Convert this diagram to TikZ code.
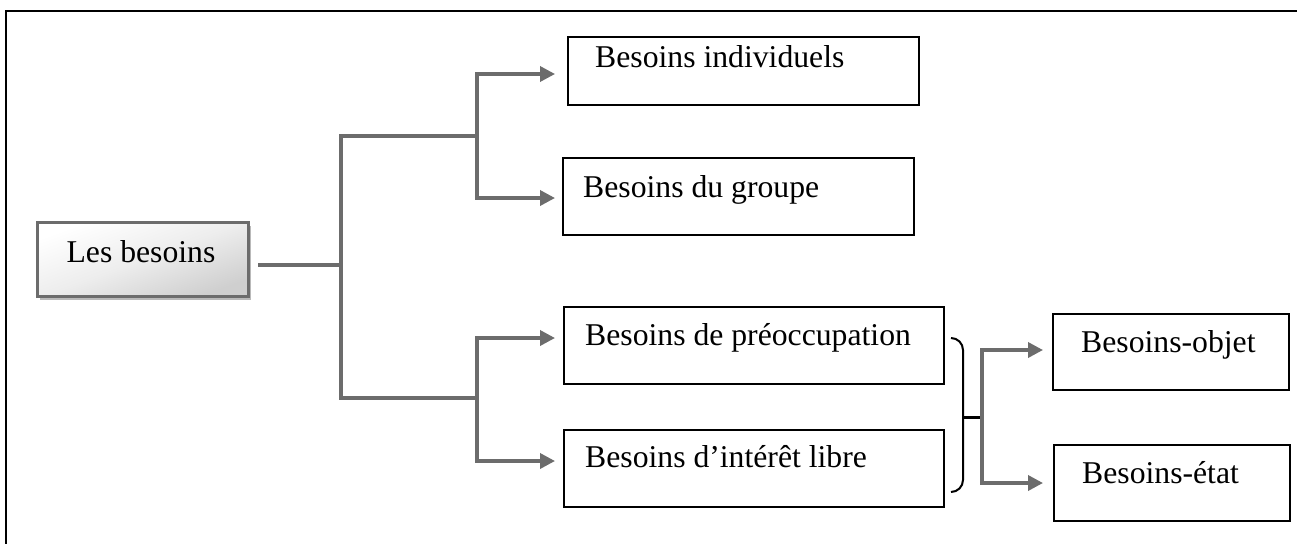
\documentclass[tikz,border=0pt]{standalone}
\usepackage{fontspec}
\setmainfont{Liberation Serif}
\usetikzlibrary{arrows.meta,shadows}
\definecolor{linkgray}{RGB}{108,108,108}
\begin{document}
\begin{tikzpicture}[x=1pt,y=-1pt,
  box/.style={draw=black, line width=1.8pt, anchor=north west, inner sep=0pt},
  rootbox/.style={draw=linkgray, line width=2.6pt, anchor=north west, inner sep=0pt,
    shading=axis, top color=white, bottom color=gray!38, middle color=gray!14, shading angle=20,
    general shadow={fill=gray!55, shadow xshift=3pt, shadow yshift=-4pt}},
  lbl/.style={inner sep=0pt, font=\fontsize{31.7}{38}\selectfont},
  conn/.style={draw=linkgray, line width=3.5pt, line join=miter},
  arr/.style={conn, -{Triangle[length=15pt,width=15pt]}},
  brace/.style={draw=black, line width=2pt, rounded corners=12pt}]
\useasboundingbox (0,0) rectangle (1297,543);
\fill[white] (0,0) rectangle (1297,543);

% outer frame (top and left edges)
\draw[black, line width=2.4pt] (6,545) -- (6,11) -- (1299,11);

% root box
\node[rootbox, minimum width=211pt, minimum height=74pt] (root) at (36,221) {};
\node[lbl, anchor=base] (root-t) at (141,262) {Les besoins};

% boxes
\node[box, minimum width=351pt, minimum height=68pt] (ind) at (567,36) {};
\node[lbl, anchor=base west] (ind-t) at (595,67) {Besoins individuels};
\node[box, minimum width=351pt, minimum height=77pt] (grp) at (562,157) {};
\node[lbl, anchor=base west] (grp-t) at (583,197) {Besoins du groupe};
\node[box, minimum width=380pt, minimum height=77pt] (pre) at (563,306) {};
\node[lbl, anchor=base west] (pre-t) at (585,345) {Besoins de préoccupation};
\node[box, minimum width=380pt, minimum height=77pt] (lib) at (563,429) {};
\node[lbl, anchor=base west] (lib-t) at (585,467) {Besoins d’intérêt libre};
\node[box, minimum width=236pt, minimum height=76pt] (obj) at (1052,313) {};
\node[lbl, anchor=base west] (obj-t) at (1081,352) {Besoins-objet};
\node[box, minimum width=236pt, minimum height=76pt] (eta) at (1053,444) {};
\node[lbl, anchor=base west] (eta-t) at (1082,483) {Besoins-état};

% junction points
\coordinate (root-out) at (258,265);
\coordinate (trunk) at (341,265);
\coordinate (up) at (341,136);
\coordinate (down) at (341,398);
\coordinate (fork-up) at (477,136);
\coordinate (fork-down) at (477,398);
\coordinate (t-ind) at (555,74);
\coordinate (t-grp) at (555,198);
\coordinate (t-pre) at (555,338);
\coordinate (t-lib) at (555,461);
\coordinate (split) at (982,417);
\coordinate (t-obj) at (1043,350);
\coordinate (t-eta) at (1043,483);

% tree connectors
\draw[conn] (root-out) -- (trunk);
\draw[conn] (fork-up) -- (up) -- (down) -- (fork-down);
\draw[arr] (fork-up) |- (t-ind);
\draw[arr] (fork-up) |- (t-grp);
\draw[arr] (fork-down) |- (t-pre);
\draw[arr] (fork-down) |- (t-lib);

% bracket grouping the two lower boxes
\coordinate (br-top) at (951,338);
\coordinate (br-bot) at (951,492);
\coordinate (br-mid) at (963,417);
\draw[brace] (br-top) -- (963,338) -- (963,492) -- (br-bot);
\draw[black, line width=3pt] (br-mid) -- (split);
\draw[arr] (split) |- (t-obj);
\draw[arr] (split) |- (t-eta);
\end{tikzpicture}
\end{document}
